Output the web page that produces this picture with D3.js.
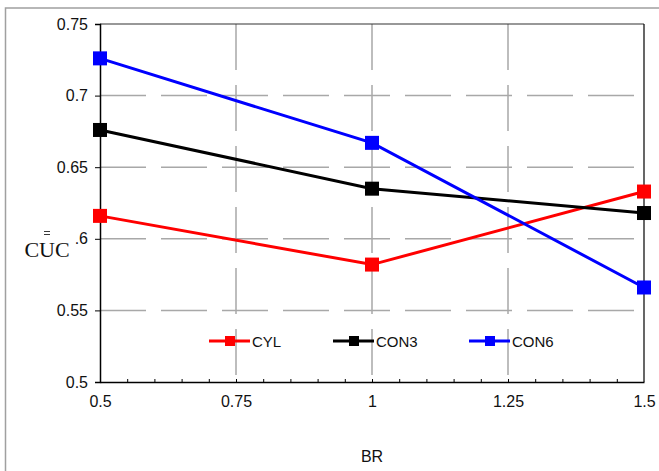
<!DOCTYPE html>
<html>
<head>
<meta charset="utf-8">
<script src="https://cdn.jsdelivr.net/npm/d3@7"></script>
<style>
  html, body { margin: 0; padding: 0; background: #fff; }
  svg { display: block; }
</style>
</head>
<body>
<svg id="chart" width="659" height="471"></svg>
<script>
// Blade ratio values on the x axis
const brValues = [0.5, 1.0, 1.5];
// Series names and their CUC values at each BR
const seriesNames = ["CYL", "CON3", "CON6"];
const cylValues  = [0.616, 0.582, 0.633];
const con3Values = [0.676, 0.635, 0.618];
const con6Values = [0.726, 0.667, 0.566];
const seriesColors = ["#ff0000", "#000000", "#0000ff"];
// Axis tick labels (the 0.6 label loses its leading zero next to the axis title)
const xTickValues = [0.5, 0.75, 1.0, 1.25, 1.5];
const xTickLabels = ["0.5", "0.75", "1", "1.25", "1.5"];
const yTickValues = [0.5, 0.55, 0.6, 0.65, 0.7, 0.75];
const yTickLabels = ["0.5", "0.55", ".6", "0.65", "0.7", "0.75"];

const series = [cylValues, con3Values, con6Values].map((vals, i) => ({
  name: seriesNames[i],
  color: seriesColors[i],
  points: vals.map((v, j) => ({ x: brValues[j], y: v }))
}));

const svg = d3.select("#chart");
const plotL = 100, plotR = 644, plotT = 24, plotB = 382;

const x = d3.scaleLinear().domain([0.5, 1.5]).range([plotL, plotR]);
const y = d3.scaleLinear().domain([0.5, 0.75]).range([plotB, plotT]);

const FONT = "Liberation Sans, Arial, sans-serif";

// Outer frame
svg.append("rect")
  .attr("x", 5.5).attr("y", 8).attr("width", 680).attr("height", 500)
  .attr("fill", "none").attr("stroke", "#a0a0a0").attr("stroke-width", 1.5);

// Dashed grid
const grid = svg.append("g").attr("stroke", "#a8a8a8").attr("stroke-width", 1.5)
  .attr("stroke-dasharray", "46,15").attr("fill", "none");
yTickValues.filter(v => v > 0.5 && v < 0.75).forEach(v => {
  grid.append("line").attr("x1", plotL).attr("x2", plotR)
    .attr("y1", y(v)).attr("y2", y(v));
});
xTickValues.filter(v => v > 0.5 && v < 1.5).forEach(v => {
  grid.append("line").attr("x1", x(v)).attr("x2", x(v))
    .attr("y1", plotT).attr("y2", plotB);
});

// Plot frame: top and right edges
svg.append("line").attr("x1", plotL).attr("x2", plotR).attr("y1", plotT).attr("y2", plotT)
  .attr("stroke", "#333").attr("stroke-width", 1.2);
svg.append("line").attr("x1", plotR).attr("x2", plotR).attr("y1", plotT).attr("y2", plotB)
  .attr("stroke", "#000").attr("stroke-width", 1.2);

// Y axis
const yAxis = d3.axisLeft(y).tickValues(yTickValues)
  .tickFormat((d, i) => yTickLabels[i]).tickSize(5).tickPadding(7);
const gy = svg.append("g").attr("transform", `translate(${plotL},0)`).call(yAxis);
gy.select(".domain").attr("stroke", "#000").attr("stroke-width", 1.5);
gy.selectAll(".tick line").attr("stroke", "#000").attr("stroke-width", 1);
gy.selectAll(".tick text").attr("font-family", FONT).attr("font-size", 16).attr("fill", "#111");

// X axis: minor ticks point inward, labels below
const xMinor = d3.range(11, 30).map(i => i * 0.05);
const xAxisMinor = d3.axisTop(x).tickValues(xMinor).tickSize(3).tickFormat("");
const gxm = svg.append("g").attr("transform", `translate(0,${plotB})`).call(xAxisMinor);
gxm.select(".domain").remove();
gxm.selectAll(".tick line").attr("stroke", "#000").attr("stroke-width", 1);

const xAxis = d3.axisBottom(x).tickValues(xTickValues)
  .tickFormat((d, i) => xTickLabels[i]).tickSize(0).tickPadding(14);
const gx = svg.append("g").attr("transform", `translate(0,${plotB})`).call(xAxis);
gx.select(".domain").attr("stroke", "#000").attr("stroke-width", 1.5);
gx.selectAll(".tick text").attr("font-family", FONT).attr("font-size", 16).attr("fill", "#111");

// Series lines and square markers
const line = d3.line().x(d => x(d.x)).y(d => y(d.y));
series.forEach(s => {
  svg.append("path").datum(s.points)
    .attr("d", line).attr("fill", "none")
    .attr("stroke", s.color).attr("stroke-width", 3);
  svg.selectAll(null).data(s.points).enter().append("rect")
    .attr("x", d => x(d.x) - 7).attr("y", d => y(d.y) - 7)
    .attr("width", 14).attr("height", 14)
    .attr("fill", s.color);
});

// Legend
const legendX = [209, 333, 469];
const legendY = 341;
series.forEach((s, i) => {
  const g = svg.append("g").attr("transform", `translate(${legendX[i]},${legendY})`);
  g.append("line").attr("x1", 0).attr("x2", 41).attr("y1", 0).attr("y2", 0)
    .attr("stroke", s.color).attr("stroke-width", 3);
  g.append("rect").attr("x", 16).attr("y", -5).attr("width", 10).attr("height", 10)
    .attr("fill", s.color);
  g.append("text").attr("x", 43).attr("y", 6)
    .attr("font-family", FONT).attr("font-size", 15).attr("fill", "#111")
    .text(s.name);
});

// Y axis title: CUC with a double bar over the U
const yTitle = svg.append("g");
yTitle.append("text").attr("x", 47).attr("y", 257).attr("text-anchor", "middle")
  .attr("font-family", "Liberation Serif, Times New Roman, serif").attr("font-size", 22)
  .attr("fill", "#111").text("CUC");
[231.5, 234.5].forEach(by => {
  yTitle.append("line").attr("x1", 44).attr("x2", 50).attr("y1", by).attr("y2", by)
    .attr("stroke", "#222").attr("stroke-width", 0.9);
});

// X axis title
svg.append("text").attr("x", 372).attr("y", 462).attr("text-anchor", "middle")
  .attr("font-family", FONT).attr("font-size", 16).attr("fill", "#111").text("BR");
</script>
</body>
</html>
